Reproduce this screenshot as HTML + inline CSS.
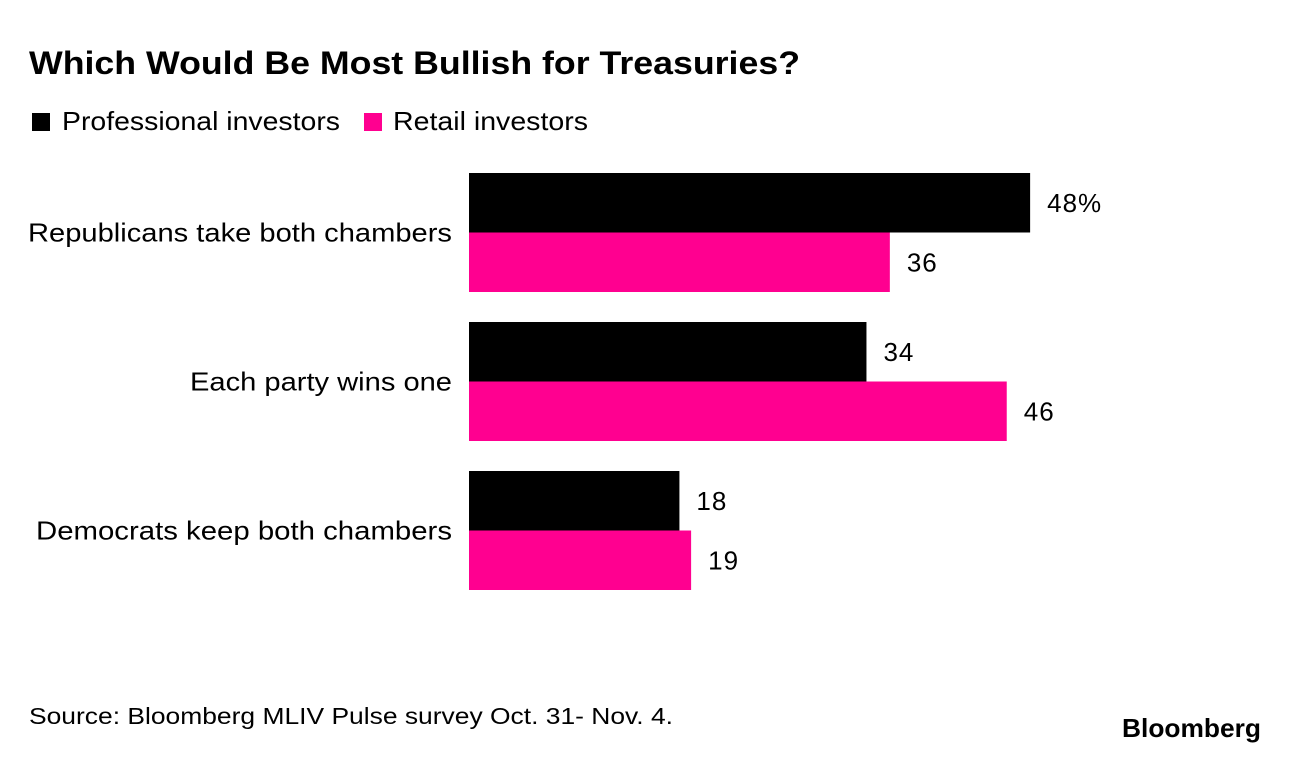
<!DOCTYPE html>
<html><head><meta charset="utf-8"><style>
body{margin:0;background:#fff;width:1289px;height:754px;overflow:hidden;font-family:"Liberation Sans",Arial,sans-serif}
svg text{font-family:"Liberation Sans",Arial,sans-serif}
</style></head><body>
<svg id="chart" width="1289" height="754" xmlns="http://www.w3.org/2000/svg">
<text x="29" y="74" font-size="32" font-weight="bold" fill="#000" textLength="771" lengthAdjust="spacingAndGlyphs">Which Would Be Most Bullish for Treasuries?</text>
<g>
<rect x="32" y="113" width="18" height="18" fill="#000"/>
<text x="62" y="130" font-size="26" fill="#000" textLength="278" lengthAdjust="spacingAndGlyphs">Professional investors</text>
<rect x="364" y="113" width="18" height="18" fill="#ff0090"/>
<text x="393" y="130" font-size="26" fill="#000" textLength="195" lengthAdjust="spacingAndGlyphs">Retail investors</text>
</g>
<g id="bars"></g>
<text x="29" y="724" font-size="23" fill="#000" textLength="644" lengthAdjust="spacingAndGlyphs">Source: Bloomberg MLIV Pulse survey Oct. 31- Nov. 4.</text>
<text x="1122" y="737" font-size="26" font-weight="bold" fill="#000" textLength="139" lengthAdjust="spacingAndGlyphs">Bloomberg</text>
</svg>
<script>
const categories = ["Republicans take both chambers","Each party wins one","Democrats keep both chambers"];
const professional = [48,34,18];
const retail = [36,46,19];
const labelWidths = [424, 262, 416];
const x0 = 469, pxPerUnit = 11.69, groupTop = 173, groupStep = 149, barH = 59.5;
const xs = v => x0 + v*pxPerUnit;
const g = document.getElementById('bars');
const NS = "http://www.w3.org/2000/svg";
function mk(tag, attrs){const e=document.createElementNS(NS,tag);for(const k in attrs)e.setAttribute(k,attrs[k]);return e;}
categories.forEach((c,i)=>{
  const top = groupTop + i*groupStep;
  const lab = mk('text',{x:452-labelWidths[i],y:top+barH+9,'font-size':26,fill:'#000',textLength:labelWidths[i],lengthAdjust:'spacingAndGlyphs'});
  
  
  lab.textContent=c; g.appendChild(lab);
  [[professional,'#000','professional'],[retail,'#ff0090','retail']].forEach(([arr,col,nm],j)=>{
    const y = top + j*barH;
    const r = mk('rect',{x:x0,y:y,width:xs(arr[i])-x0,height:barH,fill:col});
    
    
    g.appendChild(r);
    const t = mk('text',{x:xs(arr[i])+17,y:y+barH/2+9,'font-size':26,fill:'#000','letter-spacing':'1'});
    
    
    t.textContent = arr[i] + (i===0&&j===0?'%':'');
    g.appendChild(t);
  });
});
</script>
</body></html>
